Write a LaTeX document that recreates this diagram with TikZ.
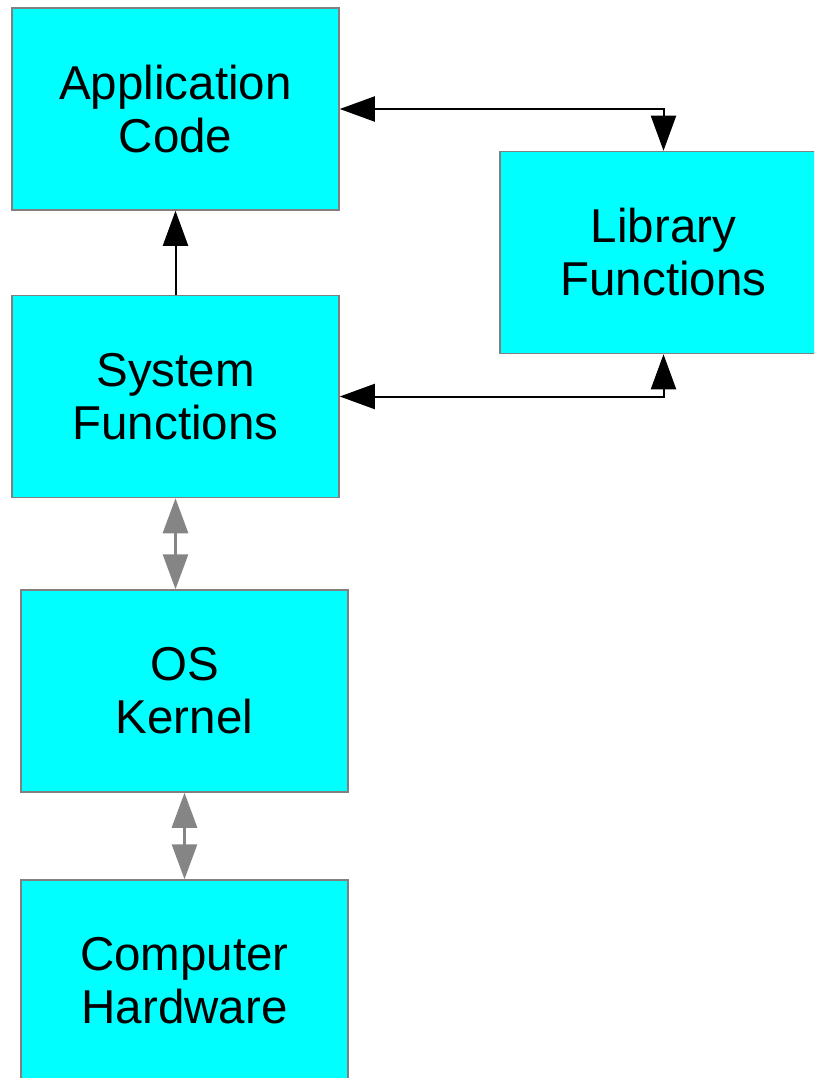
\documentclass[tikz,border=0pt]{standalone}
\usepackage{fontspec}
\setmainfont{Liberation Sans}
\usetikzlibrary{arrows.meta}
\definecolor{boxfill}{HTML}{00FFFF}
\definecolor{boxline}{HTML}{808080}
\definecolor{linkgray}{HTML}{858585}
\begin{document}
\begin{tikzpicture}[x=1pt,y=-1pt,
  layer/.style={draw=boxline, fill=boxfill, line width=1.5pt,
    minimum width=327pt, minimum height=202pt, inner sep=0pt,
    align=center, font=\fontsize{47.5}{53}\selectfont},
  callink/.style={draw=black, line width=2pt,
    {Triangle[length=35pt,width=25pt]}-{Triangle[length=35pt,width=25pt]}},
  callup/.style={draw=black, line width=2pt,
    -{Triangle[length=35pt,width=25pt]}},
  syslink/.style={draw=linkgray, line width=3pt,
    {Triangle[length=35pt,width=25pt]}-{Triangle[length=35pt,width=25pt]}}]
  \useasboundingbox (0,0) rectangle (814,1078);
  \clip (0,0) rectangle (814,1078);

  % software and hardware layers
  \node[layer] (app) at (175.5,109)   {Application\\Code};
  \node[layer] (lib) at (663.5,252.5) {Library\\Functions};
  \node[layer] (sys) at (175.5,396.5) {System\\Functions};
  \node[layer] (os)  at (184.5,691)   {OS\\Kernel};
  \node[layer] (hw)  at (184.5,981)   {Computer\\Hardware};

  % calls between layers
  \draw[callink] (app.east) -| (lib.north);
  \draw[callink] (sys.east) -| (lib.south);
  \draw[callup] (sys.north) -- (app.south);
  \draw[syslink] (sys.south) -- (sys.south |- os.north);
  \draw[syslink] (os.south) -- (hw.north);
\end{tikzpicture}
\end{document}
